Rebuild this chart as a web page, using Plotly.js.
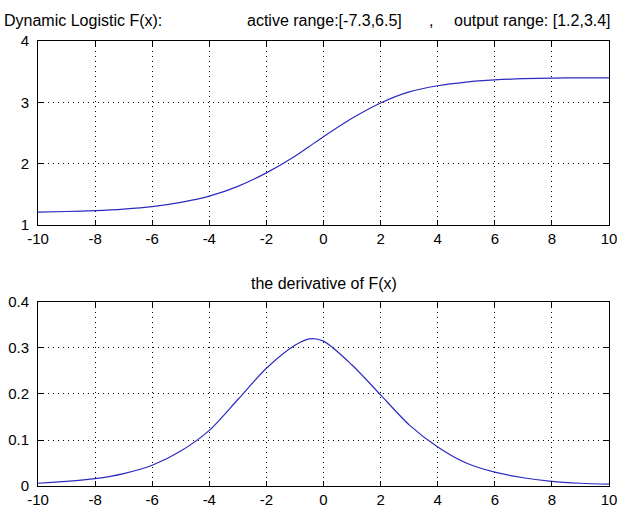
<!DOCTYPE html>
<html>
<head>
<meta charset="utf-8">
<script src="https://cdn.plot.ly/plotly-3.0.1.min.js"></script>
<style>html,body{margin:0;padding:0;background:#fff;}#chart{width:617px;height:509px;}</style>
</head>
<body>
<div id="chart"></div>
<script>
// x positions
const xValues = [-10, -9, -8, -7, -6, -5, -4, -3, -2, -1, -0.5, 0, 1, 2, 3, 4, 5, 6, 7, 8, 9, 10];
// Dynamic logistic F(x)
const fValues = [1.21, 1.22, 1.235, 1.26, 1.30, 1.37, 1.47, 1.63, 1.85, 2.12, 2.28, 2.44, 2.74, 2.99, 3.17, 3.27, 3.33, 3.365, 3.385, 3.395, 3.40, 3.40];
// derivative of F(x)
const dValues = [0.006, 0.010, 0.016, 0.027, 0.045, 0.076, 0.121, 0.188, 0.256, 0.306, 0.320, 0.315, 0.263, 0.198, 0.133, 0.085, 0.050, 0.030, 0.018, 0.010, 0.006, 0.004];
const xTicks = [-10, -8, -6, -4, -2, 0, 2, 4, 6, 8, 10];
const fTicks = [1, 2, 3, 4];
const dTicks = [0, 0.1, 0.2, 0.3, 0.4];
const topTitleParts = ["Dynamic Logistic F(x):", "active range:[-7.3,6.5]", ",", "output range: [1.2,3.4]"];
const bottomTitle = "the derivative of F(x)";

const lineColor = '#2b2bc0';
const font = {family: 'Liberation Sans, Arial, sans-serif', size: 15, color: '#000'};
const titleFont = {family: 'Liberation Sans, Arial, sans-serif', size: 16, color: '#000'};

const axisCommon = {
  showline: true, linecolor: '#000', linewidth: 1, mirror: 'ticks',
  ticks: 'inside', ticklen: 5, tickcolor: '#000', tickwidth: 1,
  showgrid: true, gridcolor: '#000', griddash: '1px,4px', gridwidth: 1,
  zeroline: false, tickfont: font, ticklabeloverflow: 'allow'
};

const traces = [
  {x: xValues, y: fValues, xaxis: 'x', yaxis: 'y', mode: 'lines', line: {color: lineColor, width: 1.2, shape: 'spline', smoothing: 0.8}, hoverinfo: 'skip'},
  {x: xValues, y: dValues, xaxis: 'x2', yaxis: 'y2', mode: 'lines', line: {color: lineColor, width: 1.2, shape: 'spline', smoothing: 0.8}, hoverinfo: 'skip'}
];

const L = 38, R = 8, W = 617;
const pw = W - L - R;
function px2paper(px) { return (px - L) / pw; }

const xAx = {range: [-10, 10], tickvals: xTicks, ticktext: xTicks.map(String), ticklabelstandoff: 0};
const layout = {
  width: 617, height: 509,
  margin: {l: L, r: R, t: 41, b: 23, pad: 0},
  paper_bgcolor: '#fff', plot_bgcolor: '#fff',
  showlegend: false,
  font: font,
  xaxis: Object.assign({}, axisCommon, xAx, {domain: [0, 1], anchor: 'y'}),
  yaxis: Object.assign({}, axisCommon, {domain: [0.5865, 1], range: [1, 4], tickvals: fTicks, ticktext: fTicks.map(String), anchor: 'x', ticklabelstandoff: 5}),
  xaxis2: Object.assign({}, axisCommon, xAx, {domain: [0, 1], anchor: 'y2'}),
  yaxis2: Object.assign({}, axisCommon, {domain: [0, 0.4135], range: [0, 0.4], tickvals: dTicks, ticktext: dTicks.map(String), anchor: 'x2', ticklabelstandoff: 5}),
  annotations: [
    {text: topTitleParts[0], xref: 'paper', yref: 'paper', x: px2paper(2), xanchor: 'left', y: 1.0 + 21/445, yanchor: 'middle', showarrow: false, font: titleFont},
    {text: topTitleParts[1], xref: 'paper', yref: 'paper', x: px2paper(245), xanchor: 'left', y: 1.0 + 21/445, yanchor: 'middle', showarrow: false, font: titleFont},
    {text: topTitleParts[2], xref: 'paper', yref: 'paper', x: px2paper(427), xanchor: 'left', y: 1.0 + 21/445, yanchor: 'middle', showarrow: false, font: titleFont},
    {text: topTitleParts[3], xref: 'paper', yref: 'paper', x: px2paper(452), xanchor: 'left', y: 1.0 + 21/445, yanchor: 'middle', showarrow: false, font: titleFont},
    {text: bottomTitle, xref: 'paper', yref: 'paper', x: 0.5, xanchor: 'center', y: (486 - 283) / 445, yanchor: 'middle', showarrow: false, font: titleFont}
  ]
};

Plotly.newPlot('chart', traces, layout, {staticPlot: true, displayModeBar: false});
</script>
</body>
</html>
